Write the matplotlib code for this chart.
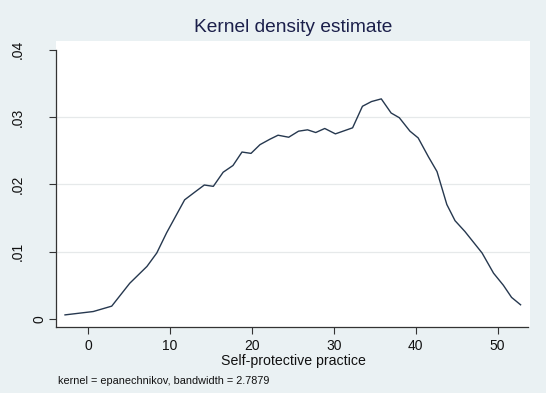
"""Kernel density estimate of self-protective practice (Stata-style look)."""

import matplotlib

matplotlib.use("Agg")
import matplotlib.pyplot as plt
import matplotlib.transforms as mtransforms

# -----------------------------------------------------------------------------
# Data
# -----------------------------------------------------------------------------

score = [
    -2.8, 0.65, 2.9, 5.1, 7.2, 8.4, 9.6, 11.8, 13.1, 14.2, 15.3, 16.5, 17.7,
    18.8, 19.9, 21.0, 22.2, 23.2, 24.5, 25.7, 26.8, 27.8, 28.9, 30.2, 32.3,
    33.5, 34.6, 35.8, 37.0, 38.0, 39.3, 40.3, 41.55, 42.6, 43.8, 44.8, 46.0,
    48.1, 49.5, 50.7, 51.7, 52.8,
]
density = [
    0.0006, 0.0011, 0.0019, 0.0053, 0.0078, 0.0098, 0.0128, 0.0177, 0.0189,
    0.0199, 0.0197, 0.0218, 0.0228, 0.0248, 0.0246, 0.0259, 0.0267, 0.0273,
    0.0270, 0.0279, 0.0281, 0.0277, 0.0283, 0.0275, 0.0284, 0.0316, 0.0323,
    0.0327, 0.0306, 0.0299, 0.0279, 0.0269, 0.0241, 0.0219, 0.0170, 0.0146,
    0.0130, 0.0098, 0.0068, 0.0050, 0.0032, 0.0021,
]

x_ticks = [0, 10, 20, 30, 40, 50]
y_ticks = [0, 0.01, 0.02, 0.03, 0.04]
y_labels = ["0", ".01", ".02", ".03", ".04"]

BG = "#eaf1f3"
LINE = "#26384f"
TEXT = "#111111"

plt.rcParams["font.family"] = ["Liberation Sans", "DejaVu Sans"]

fig = plt.figure(figsize=(5.46, 3.93), dpi=100, facecolor=BG)
W, H = 546, 393
# plot region in pixels: left 56, right 530, top 41, bottom 327
ax = fig.add_axes([56 / W, 1 - 327 / H, (530 - 56) / W, (327 - 41) / H])
ax.set_facecolor("white")

ax.plot(score, density, color=LINE, linewidth=1.0)

ax.set_xlim(-3.9, 53.95)
ax.set_ylim(-0.0012, 0.0413)

for yv in y_ticks[1:-1]:
    ax.axhline(yv, color="#e6e9ea", linewidth=0.9, zorder=0)

ax.set_xticks(x_ticks)
ax.set_yticks(y_ticks)
ax.set_yticklabels([])
ax.tick_params(axis="both", direction="out", length=5, width=0.8,
               color="#333333", labelsize=10, labelcolor=TEXT, pad=4)

# y labels drawn by hand: Stata puts the lone "0" closer to the axis
ytrans = mtransforms.blended_transform_factory(fig.transFigure, ax.transData)
for yv, lab in zip(y_ticks, y_labels):
    xpix = 40 if lab == "0" else 18
    ax.text(xpix / W, yv, lab, transform=ytrans, rotation=90, ha="center",
            va="center", fontsize=10, color=TEXT, clip_on=False)

for side in ("top", "right"):
    ax.spines[side].set_visible(False)
ax.spines["left"].set_bounds(-0.0012, 0.04)
ax.spines["bottom"].set_bounds(-3.9, 53.7)
for side in ("left", "bottom"):
    ax.spines[side].set_color("#333333")
    ax.spines[side].set_linewidth(0.9)

ax.set_xlabel("Self-protective practice", fontsize=10.2, color=TEXT, labelpad=0)

fig.text(293.5 / W, 1 - 28 / H, "Kernel density estimate", ha="center",
         va="center", fontsize=13.8, color="#1b1f4a")
fig.text(58 / W, 1 - 381 / H, "kernel = epanechnikov, bandwidth = 2.7879",
         ha="left", va="center", fontsize=7.8, color=TEXT)

fig.savefig("out.png", dpi=100, facecolor=BG)
